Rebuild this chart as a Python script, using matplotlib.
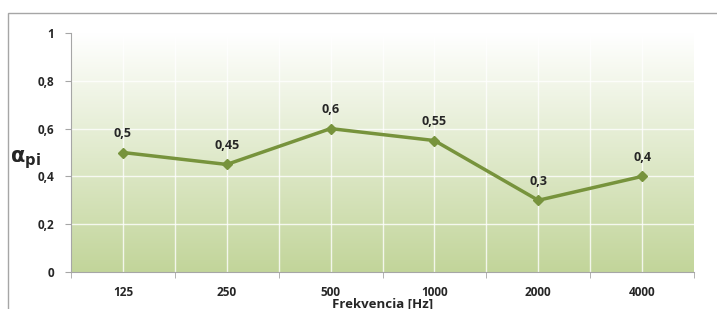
import matplotlib
matplotlib.use("Agg")
import matplotlib.pyplot as plt
import numpy as np
from matplotlib.colors import LinearSegmentedColormap
from matplotlib.patches import Rectangle

frequencies = ["125", "250", "500", "1000", "2000", "4000"]
alpha_values = [0.5, 0.45, 0.6, 0.55, 0.3, 0.4]
value_labels = ["0,5", "0,45", "0,6", "0,55", "0,3", "0,4"]
y_ticks = [0, 0.2, 0.4, 0.6, 0.8, 1.0]
y_tick_labels = ["0", "0,2", "0,4", "0,6", "0,8", "1"]

plt.rcParams['font.family'] = ['Open Sans', 'DejaVu Sans']

fig = plt.figure(figsize=(7.17, 3.09), dpi=100)
ax = fig.add_axes([71/717, 1 - 272/309, (694-71)/717, (272-33)/309])

# outer chart border (left/top visible)
fig.patches.append(Rectangle((8/717, -0.2), 1.0, 1 - 13/309 + 0.2,
                             transform=fig.transFigure, fill=False,
                             edgecolor="#a6a6a6", linewidth=1.0))

x = np.arange(len(frequencies))
n = len(frequencies)

# gradient background
cmap = LinearSegmentedColormap.from_list("bg", ["#c2d59a", "#ffffff"])
grad = np.linspace(0, 1, 256).reshape(-1, 1)
ax.imshow(grad, cmap=cmap, origin="lower", aspect="auto",
          extent=[-0.5, n - 0.5, 0, 1], zorder=0)

# white grid lines
for yv in y_ticks[1:-1]:
    ax.axhline(yv, color="white", linewidth=1.0, alpha=0.8, zorder=1)
for xv in np.arange(-0.5, n, 0.5)[1:-1]:
    ax.axvline(xv, color="white", linewidth=1.0, alpha=0.8, zorder=1)

ax.plot(x, alpha_values, color="#77933c", linewidth=2.5, marker="D",
        markersize=5, zorder=3)

for xi, yi, lab in zip(x, alpha_values, value_labels):
    ax.annotate(lab, (xi, yi), xytext=(0, 9), textcoords="offset points",
                ha="center", va="bottom", fontsize=9, fontweight="bold",
                color="#262626")

ax.set_xlim(-0.5, n - 0.5)
ax.set_ylim(0, 1)
ax.set_xticks(x)
ax.set_xticklabels(frequencies, fontsize=8.5, fontweight="bold", color="#262626")
ax.set_xticks(np.arange(-0.5, n, 1.0), minor=True)
ax.tick_params(axis="x", which="major", length=0, pad=10)
ax.tick_params(axis="x", which="minor", length=4, color="#a6a6a6")
ax.set_yticks(y_ticks)
ax.set_yticklabels(y_tick_labels, fontsize=8.5, fontweight="bold", color="#262626")
ax.tick_params(axis="y", length=4, color="#a6a6a6", pad=8)

for side in ["top", "right"]:
    ax.spines[side].set_visible(False)
ax.spines["left"].set_color("#a6a6a6")
ax.spines["bottom"].set_color("#a6a6a6")

ax.set_xlabel("Frekvencia [Hz]", fontsize=9.5, fontweight="bold",
              color="#262626", labelpad=-1)
fig.text(25/717, 1 - 160/309, r"$\mathbf{\alpha}_{\mathbf{pi}}$", fontsize=15,
         ha="center", va="center", color="#262626")

plt.savefig("out.png", dpi=100)
